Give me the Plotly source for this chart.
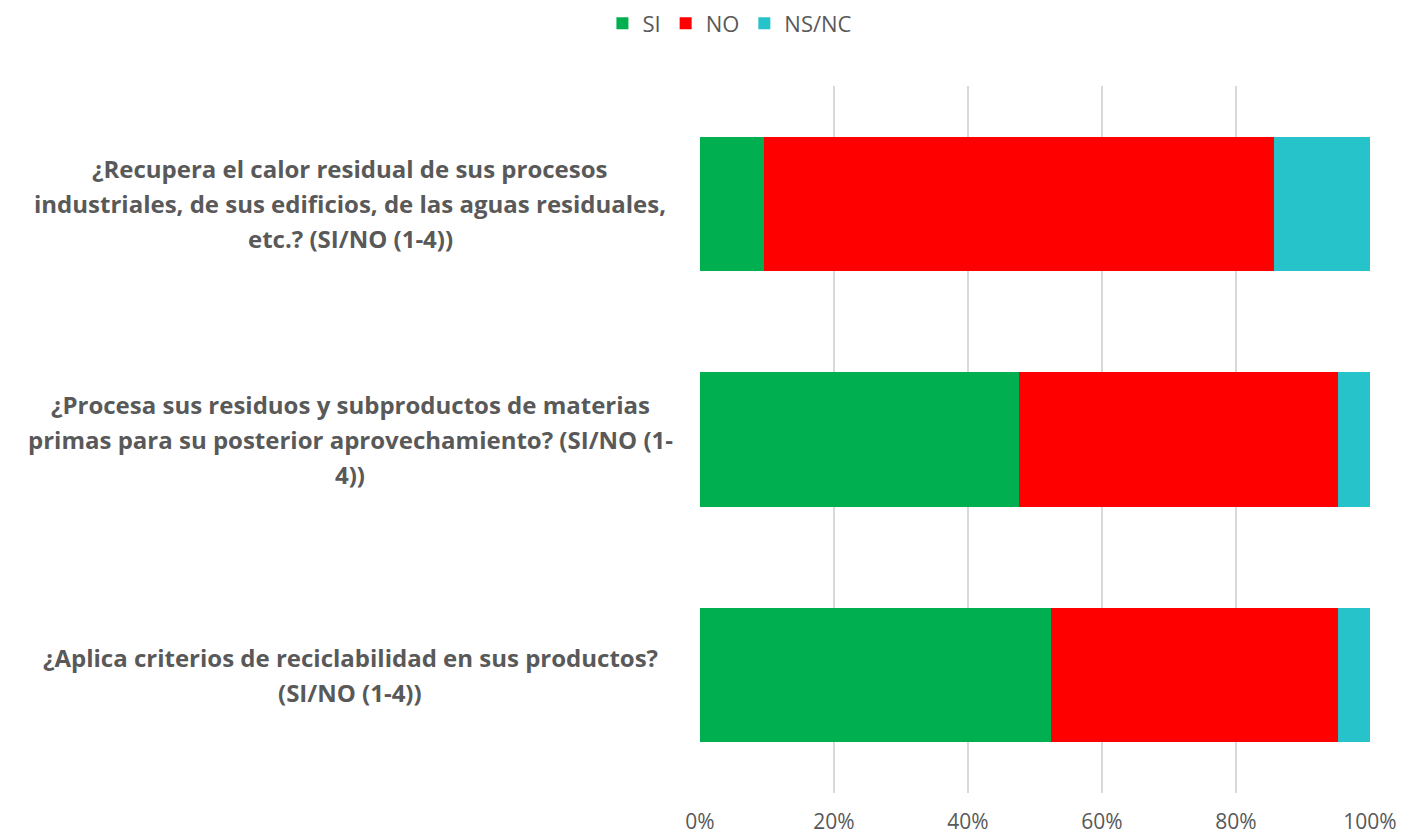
import plotly.graph_objects as go

# share of 21 answers per question
questions = ["Recupera", "Procesa", "Aplica"]
question_lines = [
    ["¿Recupera el calor residual de sus procesos",
     "industriales, de sus edificios, de las aguas residuales,",
     "etc.? (SI/NO (1-4))"],
    ["¿Procesa sus residuos y subproductos de materias",
     "primas para su posterior aprovechamiento? (SI/NO (1-",
     "4))"],
    ["¿Aplica criterios de reciclabilidad en sus productos?",
     "(SI/NO (1-4))"],
]
si = [0.0952, 0.4762, 0.5238]
no = [0.7619, 0.4762, 0.4286]
nsnc = [0.1429, 0.0476, 0.0476]
tick_vals = [0, 0.2, 0.4, 0.6, 0.8, 1.0]

SERIES = [("SI", si, "#00b050"), ("NO", no, "#ff0000"), ("NS/NC", nsnc, "#27c3cb")]
GREY = "#595959"
FONT = "Open Sans, sans-serif"

fig = go.Figure()
for name, values, color in SERIES:
    fig.add_trace(
        go.Bar(
            y=questions,
            x=values,
            name=name,
            orientation="h",
            marker={"color": color, "line": {"width": 0}},
        )
    )

# centred multi-line category labels, one annotation per line
LINE_H = 35
for q, lines in zip(questions, question_lines):
    n = len(lines)
    for i, line in enumerate(lines):
        fig.add_annotation(
            x=-0.522,
            xref="paper",
            y=q,
            yref="y",
            text=f"<b>{line}</b>",
            showarrow=False,
            xanchor="center",
            yanchor="middle",
            yshift=((n - 1) / 2 - i) * LINE_H,
            font={"family": FONT, "size": 24, "color": GREY},
        )

fig.update_layout(
    barmode="stack",
    bargap=0.43,
    width=1401,
    height=837,
    paper_bgcolor="white",
    plot_bgcolor="white",
    margin={"l": 700, "r": 31, "t": 86, "b": 44, "autoexpand": False},
    font={"family": FONT, "color": GREY, "size": 21},
    legend={
        "orientation": "h",
        "traceorder": "normal",
        "xref": "container",
        "x": 0.521,
        "xanchor": "center",
        "yref": "container",
        "y": 0.997,
        "yanchor": "top",
        "font": {"size": 22, "color": GREY},
        "itemwidth": 30,
    },
    showlegend=True,
)
fig.update_xaxes(
    range=[0, 1],
    tickvals=tick_vals,
    tickformat=".0%",
    showgrid=True,
    gridcolor="#d9d9d9",
    gridwidth=1.5,
    zeroline=False,
    showline=False,
    automargin=False,
    ticklabelstandoff=14,
    ticklabeloverflow="allow",
    tickfont={"size": 21, "color": GREY},
)
fig.update_yaxes(
    autorange="reversed",
    showticklabels=False,
    showgrid=False,
    zeroline=False,
    automargin=False,
)

# drop the default body margin so the figure fills the window exactly
fig.write_html(
    "out.html",
    config={"displayModeBar": False},
    post_script="document.body.style.margin='0';document.body.style.overflow='hidden';",
)
